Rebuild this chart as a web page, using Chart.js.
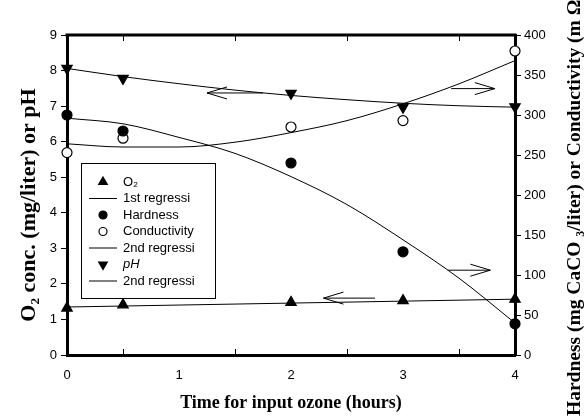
<!DOCTYPE html>
<html>
<head>
<meta charset="utf-8">
<script src="https://cdn.jsdelivr.net/npm/chart.js@4.4.0/dist/chart.umd.min.js"></script>
<style>
  html, body { margin: 0; padding: 0; background: #fff; }
  #wrap { position: relative; width: 587px; height: 419px; }
</style>
</head>
<body>
<div id="wrap"><canvas id="ozone-chart" width="587" height="419"></canvas></div>
<script>
// sampling times (hours)
var sampleTimes = [0, 0.5, 2, 3, 4];
// measured values
var o2Values = [1.32, 1.41, 1.48, 1.53, 1.57];          // mg/liter (left axis)
var phValues = [8.06, 7.78, 7.36, 6.97, 6.98];          // pH (left axis)
var hardnessValues = [300, 280, 240, 129, 39];          // mg CaCO3/liter (right axis)
var conductivityValues = [253, 271, 285, 293, 380];     // m ohm (right axis)

// regression curves
var o2FitTimes = [0, 4];
var o2Fit = [1.35, 1.57];
var fitTimes = [0, 0.5, 1, 1.5, 2, 2.5, 3, 3.5, 4];
var phFit = [8.06, 7.83, 7.63, 7.45, 7.30, 7.18, 7.08, 7.01, 6.97];
var hardnessFit = [296, 289, 272, 252, 223, 188, 144, 96, 40];
var conductivityFit = [264, 260, 260, 266, 278, 293, 314, 339, 368];

// minor tick marks on the time axis
var halfHourTicks = [0.5, 1.5, 2.5, 3.5];

// arrows telling which axis a curve belongs to
var arrowNotes = [
  { from: [1.75, 7.37], to: [1.25, 7.37], axis: "y" },
  { from: [2.75, 1.60], to: [2.29, 1.60], axis: "y" },
  { from: [3.43, 333], to: [3.82, 333], axis: "y2" },
  { from: [3.40, 106], to: [3.78, 106], axis: "y2" }
];

var xTitle = "Time for input ozone (hours)";
var leftTitle = "O\u2082 conc. (mg/liter) or pH";
var rightTitle = "Hardness (mg CaCO \u2083/liter) or Conductivity (m \u03A9)";

function pairs(xs, ys) {
  return ys.map(function (v, i) { return { x: xs[i], y: v }; });
}

var sans = "'Liberation Sans', Arial, sans-serif";
var serif = "'Liberation Serif', 'Times New Roman', serif";

function pointSet(label, values, axis, style, rotation, fill) {
  return {
    legendLabel: label,
    data: pairs(sampleTimes, values),
    yAxisID: axis,
    showLine: false,
    pointStyle: style,
    rotation: rotation,
    pointRadius: style === "triangle" ? 6 : 5,
    pointBackgroundColor: fill,
    pointBorderColor: "#000",
    pointBorderWidth: 1.2,
    clip: false,
    order: 0
  };
}

function lineSet(label, xs, values, axis) {
  return {
    legendLabel: label,
    data: pairs(xs, values),
    yAxisID: axis,
    showLine: true,
    borderColor: "#000",
    borderWidth: 1,
    pointRadius: 0,
    cubicInterpolationMode: "monotone",
    fill: false,
    clip: false,
    order: 1
  };
}

var datasets = [
  pointSet("O\u2082", o2Values, "y", "triangle", 0, "#000"),
  lineSet("1st regressi", o2FitTimes, o2Fit, "y"),
  pointSet("Hardness", hardnessValues, "y2", "circle", 0, "#000"),
  pointSet("Conductivity", conductivityValues, "y2", "circle", 0, "#fff"),
  lineSet("2nd regressi", fitTimes, hardnessFit, "y2"),
  lineSet(null, fitTimes, conductivityFit, "y2"),
  pointSet("pH", phValues, "y", "triangle", 180, "#000"),
  lineSet("2nd regressi", fitTimes, phFit, "y")
];

function drawArrow(ctx, x1, y1, x2, y2) {
  var ang = Math.atan2(y2 - y1, x2 - x1);
  ctx.beginPath();
  ctx.moveTo(x1, y1);
  ctx.lineTo(x2, y2);
  ctx.moveTo(x2 - 20 * Math.cos(ang) + 6 * Math.sin(ang), y2 - 20 * Math.sin(ang) - 6 * Math.cos(ang));
  ctx.lineTo(x2, y2);
  ctx.lineTo(x2 - 20 * Math.cos(ang) - 6 * Math.sin(ang), y2 - 20 * Math.sin(ang) + 6 * Math.cos(ang));
  ctx.stroke();
}

var paperPlugin = {
  id: "paper",
  beforeDatasetsDraw: function (chart) {
    var ctx = chart.ctx, a = chart.chartArea, xs = chart.scales.x;
    ctx.save();
    ctx.strokeStyle = "#000";
    ctx.lineWidth = 3;
    ctx.beginPath();
    ctx.moveTo(a.left - 1.5, a.top);
    ctx.lineTo(a.right + 1.5, a.top);
    ctx.stroke();
    ctx.lineWidth = 1;
    halfHourTicks.forEach(function (t) {
      var p = Math.round(xs.getPixelForValue(t)) + 0.5;
      ctx.beginPath();
      ctx.moveTo(p, a.top);
      ctx.lineTo(p, a.top + 6);
      ctx.moveTo(p, a.bottom);
      ctx.lineTo(p, a.bottom - 6);
      ctx.stroke();
    });
    ctx.restore();
  },
  afterDatasetsDraw: function (chart) {
    var ctx = chart.ctx, a = chart.chartArea, xs = chart.scales.x;
    ctx.save();
    ctx.strokeStyle = "#000";
    ctx.lineWidth = 1;
    arrowNotes.forEach(function (n) {
      var ys = chart.scales[n.axis];
      drawArrow(ctx,
        xs.getPixelForValue(n.from[0]), ys.getPixelForValue(n.from[1]),
        xs.getPixelForValue(n.to[0]), ys.getPixelForValue(n.to[1]));
    });

    // legend box
    var bx = a.left + 14, by = a.top + 128, bw = 134, bh = 135;
    ctx.fillStyle = "#fff";
    ctx.fillRect(bx, by, bw, bh);
    ctx.strokeRect(bx + 0.5, by + 0.5, bw, bh);
    var row = 0;
    chart.data.datasets.forEach(function (ds) {
      if (!ds.legendLabel) return;
      var cy = by + 19 + row * 16.5;
      ctx.strokeStyle = "#000";
      if (ds.showLine) {
        ctx.lineWidth = 1;
        ctx.beginPath();
        ctx.moveTo(bx + 8, cy);
        ctx.lineTo(bx + 36, cy);
        ctx.stroke();
      } else {
        ctx.fillStyle = ds.pointBackgroundColor;
        ctx.lineWidth = ds.pointBorderWidth;
        Chart.helpers.drawPoint(ctx, {
          pointStyle: ds.pointStyle,
          rotation: ds.rotation,
          radius: ds.pointRadius - 1,
          borderWidth: ds.pointBorderWidth
        }, bx + 22, cy);
      }
      ctx.fillStyle = "#000";
      ctx.textBaseline = "middle";
      ctx.textAlign = "left";
      ctx.font = (ds.legendLabel === "pH" ? "italic " : "") + "13px " + sans;
      ctx.fillText(ds.legendLabel, bx + 42, cy);
      row++;
    });
    ctx.restore();
  },
  afterDraw: function (chart) {
    var ctx = chart.ctx;
    ctx.save();
    ctx.fillStyle = "#000";
    ctx.textBaseline = "middle";
    ctx.font = "bold 22px " + serif;
    ctx.translate(29, 205);
    ctx.rotate(-Math.PI / 2);
    ctx.textAlign = "center";
    ctx.fillText(leftTitle, 0, 0);
    ctx.restore();

    ctx.save();
    ctx.fillStyle = "#000";
    ctx.textBaseline = "middle";
    ctx.font = "bold 19.5px " + serif;
    ctx.translate(575, 416);
    ctx.rotate(-Math.PI / 2);
    ctx.textAlign = "left";
    ctx.fillText(rightTitle, 0, 0);
    ctx.restore();
  }
};

var tickFont = { family: sans, size: 13 };

new Chart(document.getElementById("ozone-chart"), {
  type: "scatter",
  data: { datasets: datasets },
  options: {
    responsive: false,
    animation: false,
    devicePixelRatio: 1,
    layout: { padding: { top: 35, left: 0, right: 0, bottom: 0 } },
    plugins: {
      legend: { display: false },
      tooltip: { enabled: false }
    },
    scales: {
      x: {
        type: "linear",
        min: 0, max: 4,
        ticks: { stepSize: 1, color: "#000", font: tickFont, padding: 13 },
        grid: { display: false, drawTicks: false, tickLength: 0 },
        border: { display: true, color: "#000", width: 3 },
        title: {
          display: true, text: xTitle, color: "#000",
          font: { family: serif, size: 18, weight: "bold" },
          padding: { top: 0, bottom: 5 }
        },
        afterFit: function (s) { s.height = 64; }
      },
      y: {
        position: "left",
        min: 0, max: 9,
        ticks: { stepSize: 1, color: "#000", font: tickFont, padding: 4 },
        grid: { drawOnChartArea: false, drawTicks: true, tickLength: 6, tickColor: "#000" },
        border: { display: true, color: "#000", width: 3 },
        afterFit: function (s) { s.width = 67; }
      },
      y2: {
        position: "right",
        min: 0, max: 400,
        ticks: { stepSize: 50, color: "#000", font: tickFont, padding: 3 },
        grid: { drawOnChartArea: false, drawTicks: true, tickLength: 6, tickColor: "#000" },
        border: { display: true, color: "#000", width: 3 },
        afterFit: function (s) { s.width = 72; }
      }
    }
  },
  plugins: [paperPlugin]
});
</script>
</body>
</html>
